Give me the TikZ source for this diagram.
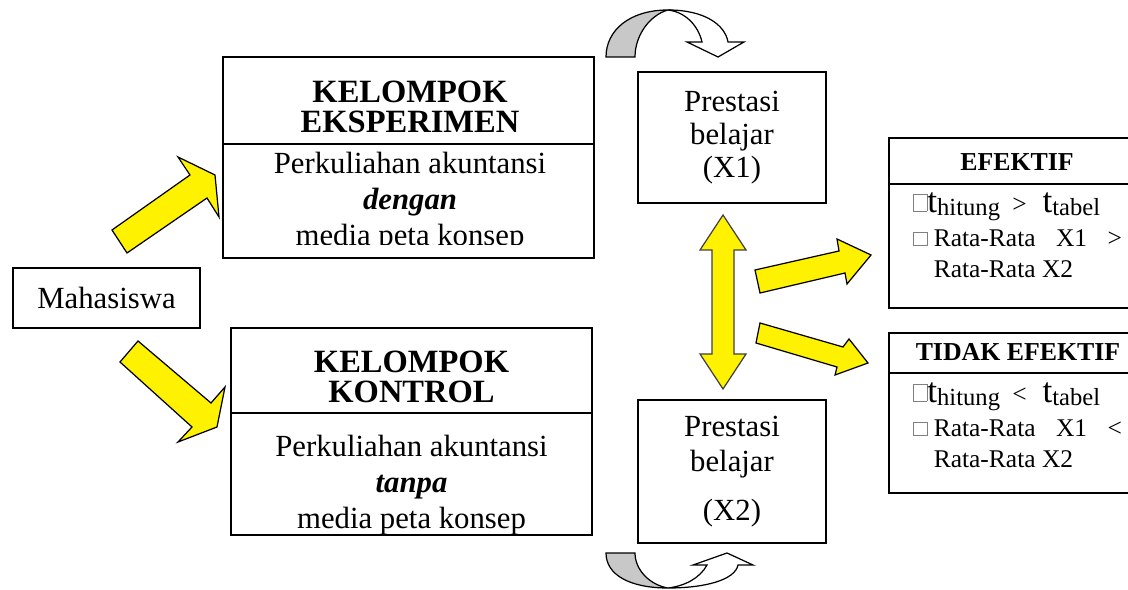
\documentclass[tikz,border=0pt]{standalone}
\usepackage{fontspec}
\setmainfont{Liberation Serif}
\usetikzlibrary{calc}
\definecolor{arrowgray}{RGB}{200,200,200}
\newcommand{\emptybox}[1][9pt]{\raisebox{1pt}{\textcolor{gray}{\fboxsep=0pt\fboxrule=0.5pt\fbox{\rule{0pt}{#1}\hspace{7pt}}}}}
\newcommand{\bodyfont}{\fontsize{17.5}{20.5}\selectfont}
\newcommand{\titlefont}{\fontsize{18.5}{17.5}\selectfont\bfseries}
\newcommand{\smallfont}{\fontsize{14.5}{17.2}\selectfont}
\newcommand{\headfont}{\fontsize{14.7}{14.7}\selectfont\bfseries}
\newcommand{\tsub}[1]{\raisebox{-2pt}{\fontsize{14}{14}\selectfont #1}}
\newcommand{\tbig}{{\fontsize{20}{20}\selectfont t}}

\begin{document}
\begin{tikzpicture}[x=0.02cm, y=-0.02cm, line join=miter,
    framebox/.style={draw, line width=1pt, fill=white, inner sep=0pt},
    divider/.style={line width=1pt},
    blockarrow/.style={draw, line width=0.7pt, fill=yellow},
    turnarrow/.style={draw, line width=0.7pt}]
  \useasboundingbox (0,0) rectangle (1128,590);

  \draw[blockarrow] (112,230) -- (190,175) -- (178,157) -- (215,175) -- (219,217) -- (207,198) -- (127,253) -- cycle;
  \draw[blockarrow] (120,362) -- (138,341) -- (211,403) -- (225,387) -- (217,427) -- (178,442) -- (192,427) -- cycle;
  \draw[blockarrow, draw=black!75] (723,215) -- (746,250) -- (734,250) -- (734,354) -- (746,354) -- (723,389) -- (700,354) -- (712,354) -- (712,250) -- (700,250) -- cycle;
  \draw[blockarrow] (755,270) -- (839,251) -- (837,239) -- (871,255) -- (847,284) -- (845,273) -- (760,293) -- cycle;
  \draw[blockarrow] (760,323) -- (843,347) -- (849,339) -- (868,363) -- (835,375) -- (837,367) -- (756,343) -- cycle;

  \filldraw[turnarrow, fill=arrowgray] (606,57) .. controls (606,30) and (630,10) .. (668,10) .. controls (650,15) and (635,35) .. (635,57) -- cycle;
  \filldraw[turnarrow, fill=white] (668,10) .. controls (705,10) and (725,25) .. (728,42) -- (744,42) -- (718,57) -- (687,42) -- (702,42) .. controls (698,25) and (685,12) .. (668,10) -- cycle;
  \filldraw[turnarrow, fill=arrowgray] (606,553) .. controls (606,575) and (630,588) .. (668,588) .. controls (650,585) and (635,570) .. (635,553) -- cycle;
  \filldraw[turnarrow, fill=white] (668,588) .. controls (705,588) and (735,580) .. (738,565) -- (753,565) -- (727,553) -- (693,565) -- (707,565) .. controls (700,578) and (685,586) .. (668,588) -- cycle;

  \node[framebox, minimum width=3.74cm, minimum height=1.2cm, font=\bodyfont] (mhs) at (106.5,298) {Mahasiswa};

  \node[framebox, minimum width=7.42cm, minimum height=4.02cm] (eksp) at (408.5,157.5) {};
  \draw[divider] (eksp.west |- 0,144) -- (eksp.east |- 0,144);
  \node[font=\titlefont, align=center] (eksptitle) at (410,107) {KELOMPOK\\EKSPERIMEN};
  \begin{scope}
    \clip (eksp.north west) rectangle (594,245);
    \node[font=\bodyfont, align=center] (ekspbody) at (410,202) {Perkuliahan akuntansi\\\textbf{\textit{dengan}}\\media peta konsep};
  \end{scope}

  \node[framebox, minimum width=7.22cm, minimum height=4.14cm] (kontrol) at (411.5,431.5) {};
  \draw[divider] (kontrol.west |- 0,413) -- (kontrol.east |- 0,413);
  \node[font=\titlefont, align=center] (kontroltitle) at (411.5,377) {KELOMPOK\\KONTROL};
  \node[font=\bodyfont, align=center] (kontrolbody) at (411.5,485) {Perkuliahan akuntansi\\\textbf{\textit{tanpa}}\\media peta konsep};

  \node[framebox, minimum width=3.76cm, minimum height=2.62cm, align=center, font=\fontsize{17.5}{19}\selectfont] (xone) at (732,137.5) {Prestasi\\belajar\\(X1)};
  \node[framebox, minimum width=3.76cm, minimum height=2.86cm, align=center, font=\fontsize{17.5}{20}\selectfont] (xtwo) at (732,471.5) {Prestasi\\belajar\\[8pt](X2)};

  \node[framebox, minimum width=5.12cm, minimum height=3.4cm] (efektif) at (1017,223) {};
  \draw[divider] (efektif.west |- 0,184) -- (efektif.east |- 0,184);
  \node[font=\headfont] (efektiftitle) at (1017,162.5) {EFEKTIF};
  \node[anchor=west, align=left, inner sep=0pt, font=\smallfont] (efektiflist) at (913,235)
    {\emptybox\tbig\tsub{hitung}\hspace{7pt}>\hspace{9pt}\tbig\tsub{tabel}\\[2.5pt]
     \emptybox[7pt]\ Rata-Rata\hspace{0.8em}X1\hspace{0.8em}>\\
     \phantom{\emptybox[7pt]}\ Rata-Rata X2};

  \node[framebox, minimum width=5.12cm, minimum height=3.2cm] (tidak) at (1017,413) {};
  \draw[divider] (tidak.west |- 0,373) -- (tidak.east |- 0,373);
  \node[font=\headfont] (tidaktitle) at (1018,352) {TIDAK EFEKTIF};
  \node[anchor=west, align=left, inner sep=0pt, font=\smallfont] (tidaklist) at (913,425)
    {\emptybox\tbig\tsub{hitung}\hspace{7pt}<\hspace{9pt}\tbig\tsub{tabel}\\[2.5pt]
     \emptybox[7pt]\ Rata-Rata\hspace{0.8em}X1\hspace{0.8em}<\\
     \phantom{\emptybox[7pt]}\ Rata-Rata X2};
\end{tikzpicture}
\end{document}
